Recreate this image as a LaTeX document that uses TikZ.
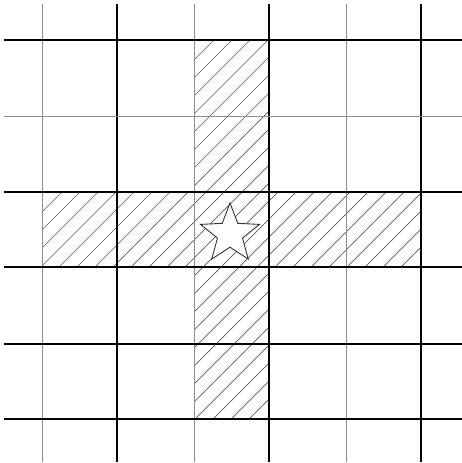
\documentclass[tikz,border=0pt]{standalone}
\usetikzlibrary{shapes.geometric}
\begin{document}
\begin{tikzpicture}[x=1pt,y=-1pt,
  thickline/.style={line width=1.4pt,black},
  thinline/.style={line width=0.9pt,black!45},
  hatchline/.style={line width=0.7pt,black!65},
  starshape/.style={star,star points=5,star point ratio=2.35,minimum size=62pt,inner sep=0pt,draw=black!80,line width=0.9pt,fill=white}]
\useasboundingbox (0,0) rectangle (462,463);
% hatching in the cross
\begin{scope}
  \clip (194,40) rectangle (269,419) (42,192) rectangle (421,267);
  \foreach \c in {74,92,...,860}{
    \draw[hatchline] (\c-480,480) -- (\c,0);
  }
\end{scope}
% star
\node[starshape] (st) at (230,234) {};
% vertical lines
\foreach \x/\s in {42/thinline,117/thickline,194/thinline,269/thickline,346/thinline,421/thickline}{
  \draw[\s] (\x,4) -- (\x,462);
}
% horizontal lines
\foreach \y/\s in {40/thickline,116/thinline,192/thickline,267/thickline,344/thickline,419/thickline}{
  \draw[\s] (4,\y) -- (462,\y);
}
\end{tikzpicture}
\end{document}
